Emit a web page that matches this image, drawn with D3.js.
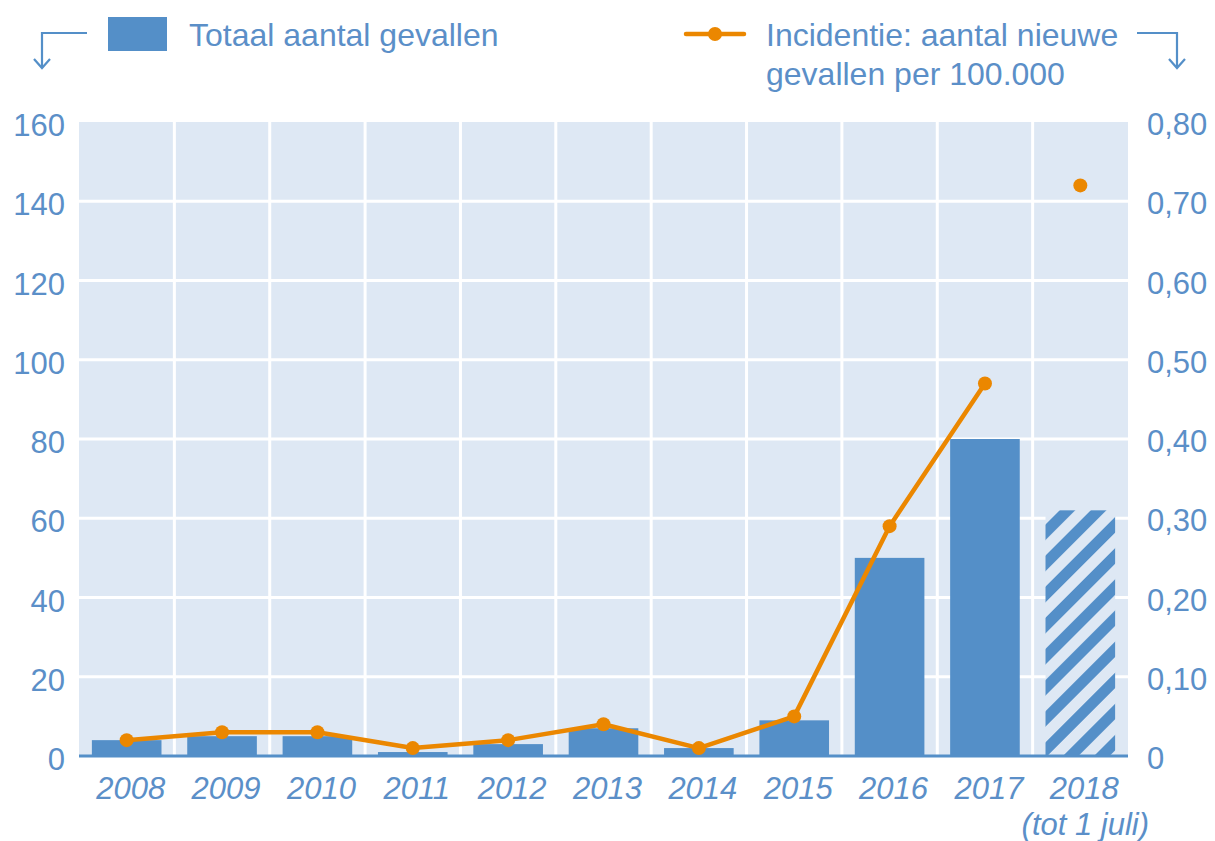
<!DOCTYPE html>
<html>
<head>
<meta charset="utf-8">
<script src="https://cdn.jsdelivr.net/npm/d3@7"></script>
<style>
  body { margin: 0; background: #fff; }
  text { font-family: "Liberation Sans", Arial, sans-serif; fill: #5b8fc8; }
</style>
</head>
<body>
<div id="chart"></div>
<script>
var years = ["2008", "2009", "2010", "2011", "2012", "2013", "2014", "2015", "2016", "2017", "2018"];
var totals = [4, 5, 5, 1, 3, 7, 2, 9, 50, 80, 62];
var incidence = [0.02, 0.03, 0.03, 0.01, 0.02, 0.04, 0.01, 0.05, 0.29, 0.47, 0.72];
var leftTicks = [0, 20, 40, 60, 80, 100, 120, 140, 160];
var rightTicks = [0, 0.1, 0.2, 0.3, 0.4, 0.5, 0.6, 0.7, 0.8];

var blue = "#548fc8", panel = "#dee8f4", orange = "#eb8700";

var W = 1215, H = 841;
var margin = { top: 122, right: 87, bottom: 85, left: 79 },
  width = W - margin.left - margin.right,
  height = H - margin.top - margin.bottom;

var svg = d3.select("#chart").append("svg")
  .attr("width", W)
  .attr("height", H);

var defs = svg.append("defs");
var pat = defs.append("pattern")
  .attr("id", "hatch")
  .attr("patternUnits", "userSpaceOnUse")
  .attr("width", 22)
  .attr("height", 22)
  .attr("patternTransform", "rotate(45)");
pat.append("rect").attr("width", 22).attr("height", 22).attr("fill", panel);
pat.append("rect").attr("x", 0).attr("width", 11).attr("height", 22).attr("fill", blue);

var x = d3.scaleBand().domain(years).range([0, width]).padding(0.27).paddingOuter(0.135);
var xb = d3.scaleBand().domain(years).range([0, width]).padding(0);
var y = d3.scaleLinear().domain([0, 160]).range([height, 0]);
var y2 = d3.scaleLinear().domain([0, 0.8]).range([height, 0]);

var g = svg.append("g")
  .attr("transform", "translate(" + margin.left + "," + margin.top + ")");

g.append("rect")
  .attr("width", width)
  .attr("height", height)
  .attr("fill", panel);

// gridlines
g.selectAll(".hgrid")
  .data(leftTicks.slice(1, -1))
  .enter().append("line")
  .attr("x1", 0).attr("x2", width)
  .attr("y1", function(d) { return y(d); })
  .attr("y2", function(d) { return y(d); })
  .attr("stroke", "#fff").attr("stroke-width", 3);

g.selectAll(".vgrid")
  .data(years.slice(1))
  .enter().append("line")
  .attr("x1", function(d) { return xb(d); })
  .attr("x2", function(d) { return xb(d); })
  .attr("y1", 0).attr("y2", height)
  .attr("stroke", "#fff").attr("stroke-width", 3);

// bars
g.selectAll(".bar")
  .data(years)
  .enter().append("rect")
  .attr("x", function(d) { return x(d); })
  .attr("width", x.bandwidth())
  .attr("y", function(d, i) { return y(totals[i]); })
  .attr("height", function(d, i) { return height - y(totals[i]); })
  .attr("fill", function(d) { return d === "2018" ? "url(#hatch)" : blue; });

// baseline
g.append("line")
  .attr("x1", 0).attr("x2", width)
  .attr("y1", height).attr("y2", height)
  .attr("stroke", blue).attr("stroke-width", 3);

// line 2008-2017, 2018 only as a point
var lineIdx = d3.range(0, 10);
var line = d3.line()
  .x(function(i) { return xb(years[i]) + xb.bandwidth() / 2; })
  .y(function(i) { return y2(incidence[i]); });

g.append("path")
  .datum(lineIdx)
  .attr("d", line)
  .attr("fill", "none")
  .attr("stroke", orange)
  .attr("stroke-width", 4.5)
  .attr("stroke-linejoin", "round");

g.selectAll(".dot")
  .data(years)
  .enter().append("circle")
  .attr("cx", function(d) { return xb(d) + xb.bandwidth() / 2; })
  .attr("cy", function(d, i) { return y2(incidence[i]); })
  .attr("r", 7)
  .attr("fill", orange);

// tick labels
g.selectAll(".ltick")
  .data(leftTicks)
  .enter().append("text")
  .attr("x", -14)
  .attr("y", function(d) { return y(d) + 3; })
  .attr("dy", "0.36em")
  .attr("text-anchor", "end")
  .style("font-size", "31px")
  .text(function(d) { return d; });

var fmt = function(d) { return d === 0 ? "0" : d3.format(".2f")(d).replace(".", ","); };
g.selectAll(".rtick")
  .data(rightTicks)
  .enter().append("text")
  .attr("x", width + 19)
  .attr("y", function(d) { return y2(d) + 2; })
  .attr("dy", "0.36em")
  .attr("text-anchor", "start")
  .style("font-size", "31px")
  .text(fmt);

g.selectAll(".xtick")
  .data(years)
  .enter().append("text")
  .attr("x", function(d) { return xb(d) + xb.bandwidth() / 2 + 4; })
  .attr("y", height + 43)
  .attr("text-anchor", "middle")
  .style("font-size", "31px")
  .style("font-style", "italic")
  .text(function(d) { return d; });

g.append("text")
  .attr("x", xb("2018") + xb.bandwidth() / 2 + 5)
  .attr("y", height + 79)
  .attr("text-anchor", "middle")
  .style("font-size", "31px")
  .style("font-style", "italic")
  .text("(tot 1 juli)");

// legend
var arrowStyle = function(sel) {
  sel.attr("fill", "none").attr("stroke", blue).attr("stroke-width", 2.2);
};
svg.append("path").attr("d", "M87,33 H42 V68").call(arrowStyle);
svg.append("path").attr("d", "M34,59 L42,68 L50,59").call(arrowStyle);
svg.append("path").attr("d", "M1137,33 H1177 V68").call(arrowStyle);
svg.append("path").attr("d", "M1169,59 L1177,68 L1185,59").call(arrowStyle);

svg.append("rect")
  .attr("x", 108).attr("y", 17)
  .attr("width", 59).attr("height", 34)
  .attr("fill", blue);
svg.append("text")
  .attr("x", 189).attr("y", 46)
  .style("font-size", "32px")
  .text("Totaal aantal gevallen");

svg.append("line")
  .attr("x1", 686).attr("x2", 744)
  .attr("y1", 34).attr("y2", 34)
  .attr("stroke", orange).attr("stroke-width", 4.5)
  .attr("stroke-linecap", "round");
svg.append("circle")
  .attr("cx", 715).attr("cy", 34).attr("r", 7)
  .attr("fill", orange);
svg.append("text")
  .attr("x", 766).attr("y", 46)
  .style("font-size", "32px")
  .text("Incidentie: aantal nieuwe");
svg.append("text")
  .attr("x", 766).attr("y", 85)
  .style("font-size", "32px")
  .text("gevallen per 100.000");
</script>
</body>
</html>
